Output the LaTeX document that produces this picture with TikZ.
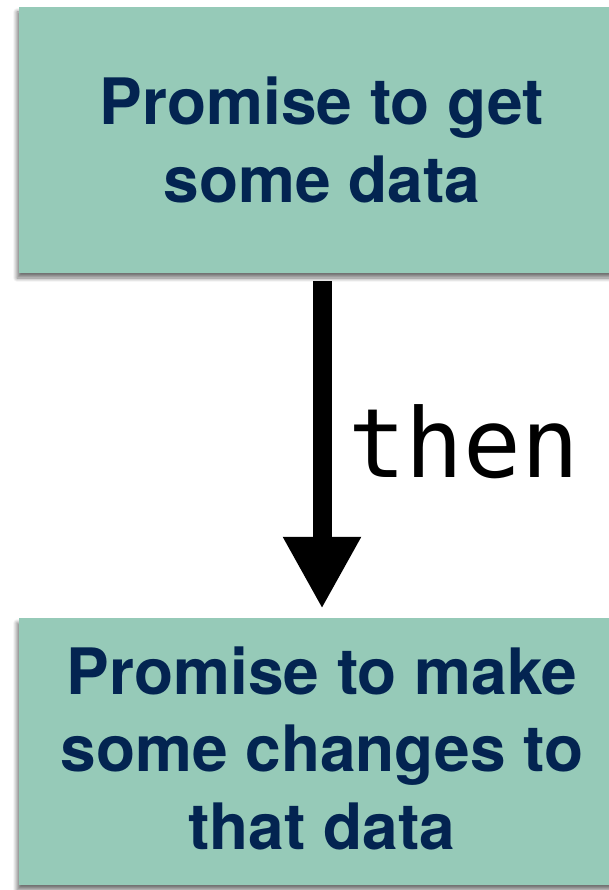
\documentclass[tikz,border=0pt]{standalone}
\usepackage{fontspec}
\setsansfont{TeX Gyre Heros}
\setmonofont{DejaVu Sans Mono}
\usetikzlibrary{arrows.meta,shadows.blur}

\definecolor{boxgreen}{HTML}{96CAB8}
\definecolor{navytext}{HTML}{032451}

\tikzset{
  promisebox/.style={
    fill=boxgreen, draw=none, inner sep=0pt,
    minimum width=606pt,
    blur shadow={shadow xshift=-2pt, shadow yshift=-5pt,
                 shadow blur radius=4pt, shadow blur steps=12,
                 shadow opacity=55}
  },
  promisetext/.style={
    inner sep=0pt, align=center, text=navytext,
    font=\sffamily\bfseries\fontsize{64}{77.5}\selectfont
  },
  thenarrow/.style={
    draw=black, line width=19pt,
    -{Triangle[width=73pt,length=72pt]}
  }
}

\begin{document}
\begin{tikzpicture}[x=1pt,y=1pt]
  \useasboundingbox (0,0) rectangle (608,-890);

  % first promise
  \node[promisebox, minimum height=266pt] (getbox) at (322,-140) {};
  \node[promisetext] (gettext) at (getbox.center) {Promise to get\\some data};

  % second promise
  \node[promisebox, minimum height=267pt] (changebox) at (322,-751.5) {};
  \node[promisetext] (changetext) at ([yshift=3.5pt]changebox.center)
    {Promise to make\\some changes to\\that data};

  % chaining arrow
  \draw[thenarrow] ([yshift=-8pt]getbox.south) -- ([yshift=9pt]changebox.north);
  \node[inner sep=0pt, anchor=base west, font=\ttfamily\fontsize{96}{110}\selectfont]
    (thenlabel) at (348,-477) {then};
\end{tikzpicture}
\end{document}
